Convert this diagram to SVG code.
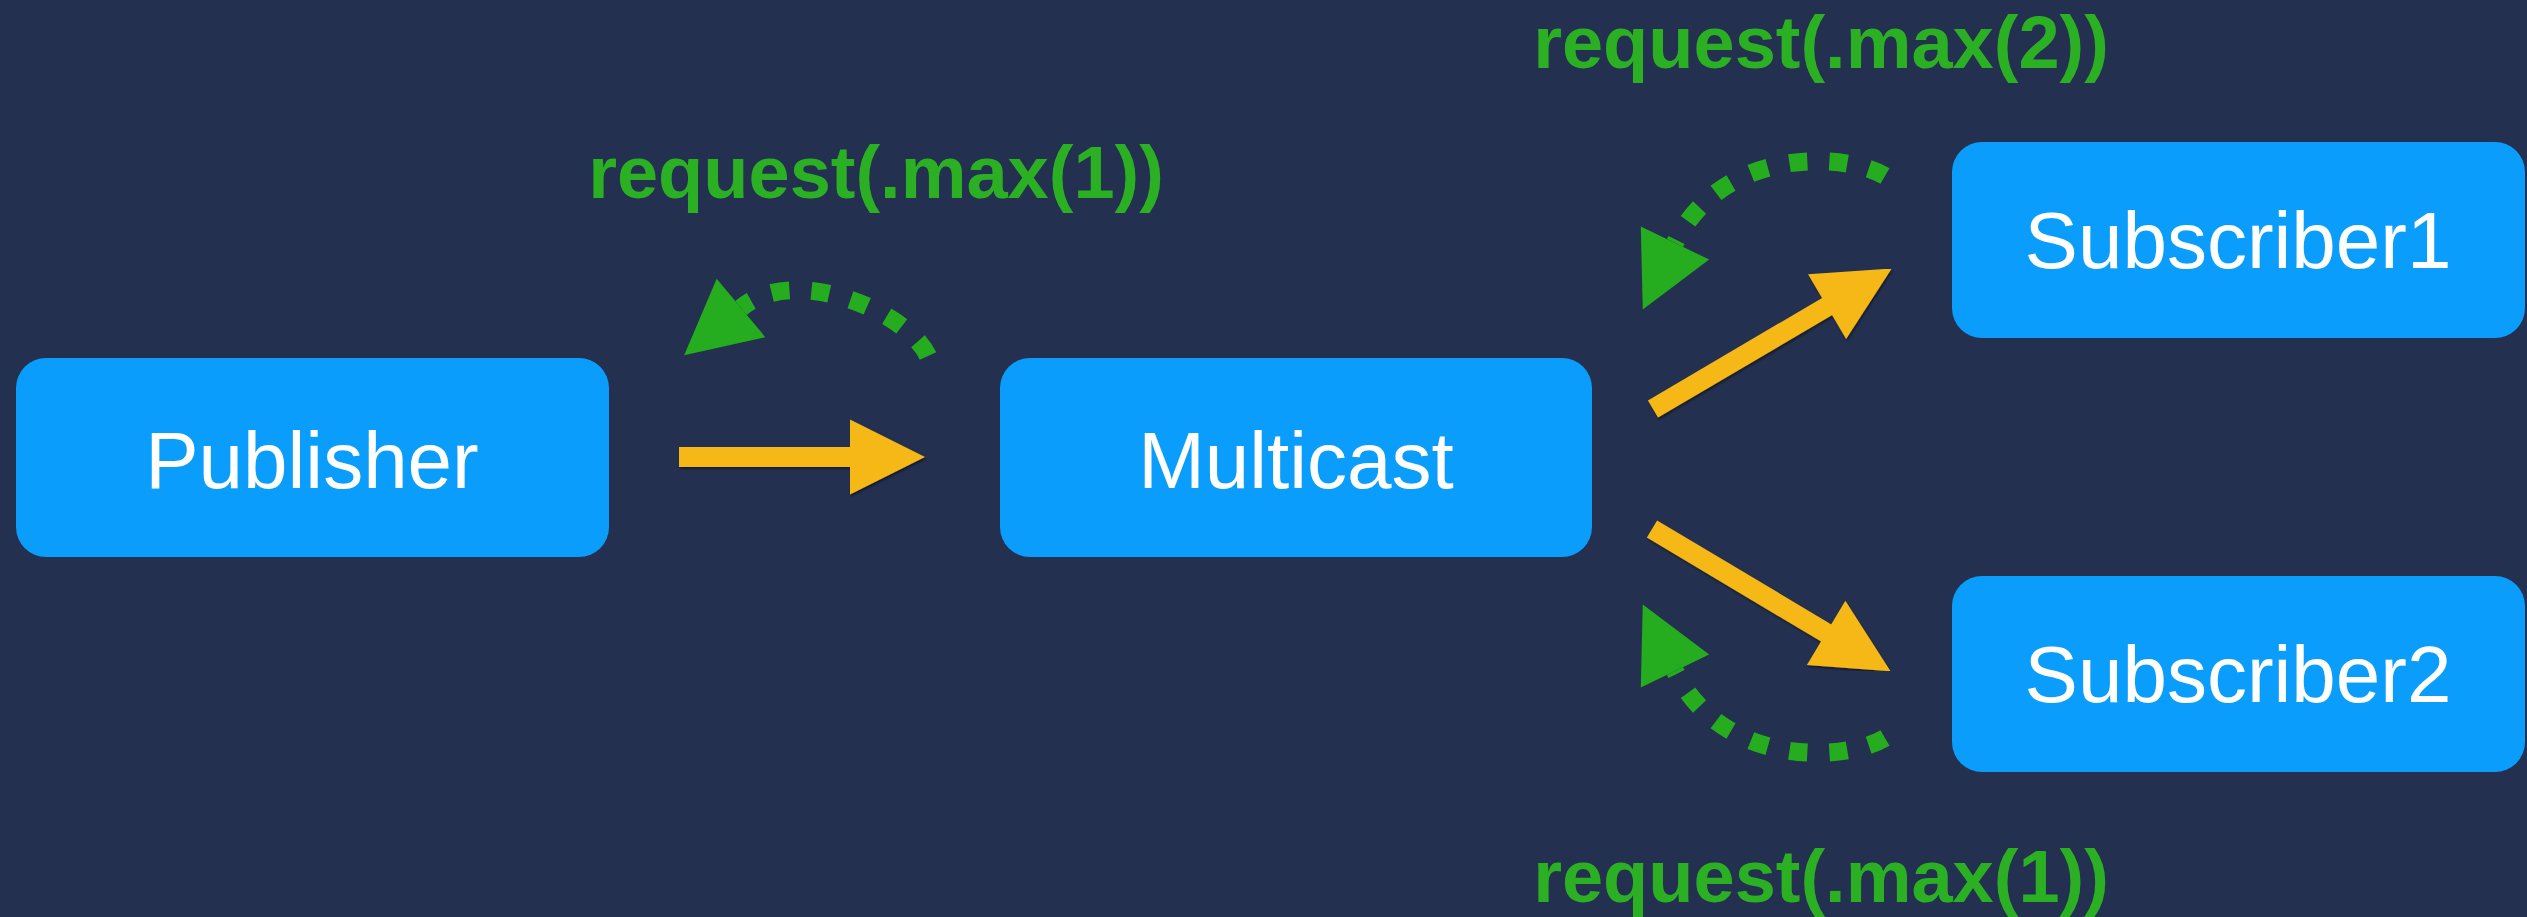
<svg xmlns="http://www.w3.org/2000/svg" width="2527" height="917" viewBox="0 0 2527 917">
  <style>
    .node rect { fill: #0A9DFB; }
    .node text { font-family: "Liberation Sans", Arial, sans-serif; font-size: 80px; fill: #FFFFFF; text-anchor: middle; }
    .label { font-family: "Liberation Sans", Arial, sans-serif; font-weight: bold; font-size: 74px; fill: #2BB024; text-anchor: middle; }
    .flow { fill: none; stroke: #F6B817; stroke-width: 20; stroke-linecap: butt; marker-end: url(#headFlow); }
    .demand { fill: none; stroke: #26AC1F; stroke-width: 18; stroke-dasharray: 18 22; marker-end: url(#headDemand); }
  </style>
  <defs>
    <marker id="headFlow" markerUnits="userSpaceOnUse" orient="auto" viewBox="0 -40 80 80" markerWidth="80" markerHeight="80" refX="8" refY="0" overflow="visible">
      <path d="M0,-37.5 L75,0 L0,37.5 Z" fill="#F6B817"/>
    </marker>
    <marker id="headDemand" markerUnits="userSpaceOnUse" orient="auto" viewBox="0 -40 80 80" markerWidth="80" markerHeight="80" refX="0" refY="0" overflow="visible">
      <path d="M0,-38 L74,0 L0,38 Z" fill="#26AC1F"/>
    </marker>
    <filter id="lift" x="-10%" y="-10%" width="120%" height="120%">
      <feDropShadow dx="1" dy="2" stdDeviation="1.2" flood-color="#000000" flood-opacity="0.45"/>
    </filter>
  </defs>

  <!-- backdrop -->
  <rect x="0" y="0" width="2527" height="917" fill="#24304F"/>

  <!-- nodes -->
  <g id="publisher" class="node">
    <rect x="16" y="358" width="593" height="199" rx="30"/>
    <text x="312" y="488">Publisher</text>
  </g>
  <g id="multicast" class="node">
    <rect x="1000" y="358" width="592" height="199" rx="30"/>
    <text x="1296" y="488">Multicast</text>
  </g>
  <g id="subscriber1" class="node">
    <rect x="1952" y="142" width="573" height="196" rx="30"/>
    <text x="2238" y="268">Subscriber1</text>
  </g>
  <g id="subscriber2" class="node">
    <rect x="1952" y="576" width="573" height="196" rx="30"/>
    <text x="2238" y="702">Subscriber2</text>
  </g>

  <!-- connectors: yellow data flow, green dotted demand -->
  <g id="connectors">
    <g filter="url(#lift)">
      <path class="flow" d="M679,457 L858,457"/>
      <path class="flow" d="M1653,409 L1834,302.5"/>
      <path class="flow" d="M1652,529 L1833,637"/>
    </g>
    <path class="demand" d="M928,356 C908,312 795,263 741,308"/>
    <path class="demand" d="M1885,176 C1840,150 1720,150 1675,243"/>
    <path class="demand" d="M1885,738 C1840,764 1720,764 1675,671"/>
  </g>

  <!-- demand labels -->
  <g id="labels">
    <text class="label" x="876" y="198">request(.max(1))</text>
    <text class="label" x="1821" y="68">request(.max(2))</text>
    <text class="label" x="1821" y="902">request(.max(1))</text>
  </g>
</svg>
